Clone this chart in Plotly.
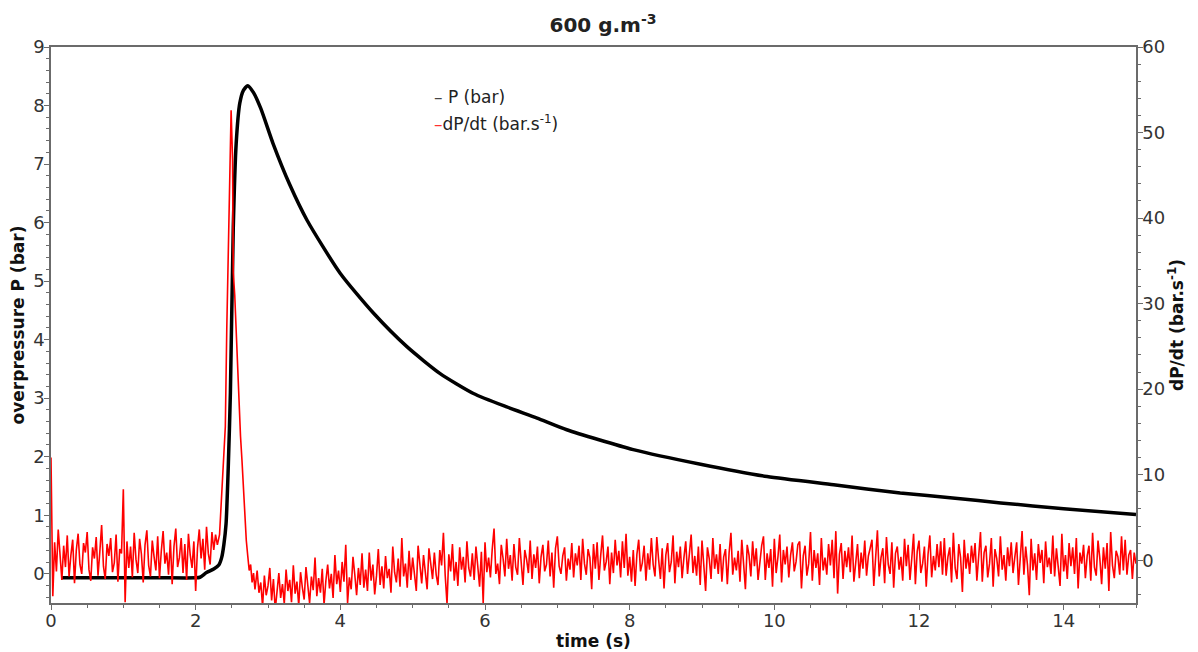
import numpy as np
import plotly.graph_objects as go

# overpressure P (bar)
t_p = [0.15, 0.5, 1.0, 1.5, 2.0, 2.06, 2.15, 2.25, 2.32, 2.36, 2.39, 2.42,
       2.45, 2.48, 2.52, 2.56, 2.61, 2.66, 2.72, 2.80, 2.90, 3.07, 3.30,
       3.54, 4.0, 4.46, 4.92, 5.38, 5.84, 6.30, 6.72, 7.13, 8.05, 8.98,
       9.90, 10.82, 11.74, 12.5, 13.13, 14.0, 15.0]
p_bar = [-0.07, -0.07, -0.07, -0.07, -0.07, -0.06, 0.02, 0.08, 0.15, 0.28,
         0.50, 0.85, 1.8, 3.09, 5.92, 7.35, 8.04, 8.26, 8.34, 8.22, 7.95,
         7.35, 6.65, 6.04, 5.13, 4.45, 3.88, 3.42, 3.08, 2.85, 2.66, 2.46,
         2.12, 1.87, 1.66, 1.52, 1.38, 1.29, 1.21, 1.11, 1.01]

# dP/dt (bar/s), red trace, one value every 0.025 s before the rise
dpdt_base = [
    12.0, -4.2, 2.1, -1.3, 3.6, 0.4, -2.3, 1.7, -0.8, 2.9,
    -1.9, 0.6, 2.4, -2.7, 1.2, 3.1, -0.5, -1.6, 2.0, 0.9,
    3.3, -1.1, -2.4, 1.5, 0.2, 2.7, -1.8, 1.0, 4.1, -0.7,
    -2.2, 1.9, 0.5, 2.6, -1.4, -0.3, 3.0, -2.5, 1.3, 0.8,
    8.3, -4.9, 2.2, -0.9, 1.6, -2.0, 3.2, 0.1, -1.5, 2.5,
    0.7, -2.6, 1.8, 3.5, -0.6, -1.9, 2.3, 0.4, -1.2, 2.8,
    -2.1, 1.1, 3.4, -0.4, 0.9, -1.7, 2.4, -2.8, 1.6, 3.7,
    -0.8, 0.3, 2.6, -1.5, 1.9, -2.3, 3.1, 0.6, -0.9, 2.2,
    -3.6, 1.4, 3.6, 0.2, 2.5, -1.1, 3.9, 0.8, -0.5, 3.3,
    1.2, 3.0, 1.8,
]

# the rate peak
t_peak = [2.33, 2.36, 2.39, 2.41, 2.43, 2.45, 2.47, 2.49, 2.51, 2.52, 2.54,
          2.56, 2.58, 2.60, 2.62, 2.64, 2.66, 2.68, 2.70, 2.72, 2.74, 2.76,
          2.78, 2.80, 2.82]
dpdt_peak = [3.0, 7.8, 12.5, 15.6, 27.0, 36.0, 42.9, 52.6, 46.8, 33.6, 31.0,
             26.5, 22.0, 17.5, 14.5, 11.7, 8.0, 4.7, 2.3, 0.5, -1.2, -0.5,
             -2.6, -1.5, -3.4]

# after the peak, every 0.025 s from 2.85 s
dpdt_tail = [
    -1.2, -3.8, -2.6, -5.4, -1.8, -4.1, -3.0, -0.9, -4.7, -2.2, -5.8, -3.4, -1.5, -4.4, -2.8, -5.1, -1.1, -3.6, -2.3, -4.9,
    -0.6, -3.9, -2.5, -5.3, -1.4, -3.2, -4.6, -0.8, -2.7, -5.0, -1.9, -3.5, 0.3, -4.2, -2.1, -3.8, -1.0, -5.2, -2.4, -0.5,
    -3.3, -1.6, -4.4, 0.6, -2.8, -1.2, -3.7, -0.2, -2.5, 1.8, -5.0, -2.0, -3.4, 0.4, -1.7, -4.1, -0.9, -2.9, 0.8, -3.2,
    -1.1, -3.6, 0.9, -2.4, -0.5, -4.0, -1.8, 1.3, -2.9, -0.7, -3.3, 0.5, -2.1, -1.0, -3.8, 1.6, -1.4, -2.6, 0.2, -3.1,
    2.6, -1.9, -0.4, -3.2, 1.1, -2.3, 0.3, -1.5, -3.6, 1.7, -0.8, -2.7, 0.6, -1.2, -3.4, 1.4, -0.3, -2.2, 0.9, -1.7,
    -2.9, 1.2, -0.6, 3.2, -1.8, -5.1, 0.7, -1.3, 1.9, -2.4, -0.2, -3.0, 1.5, -1.1, 0.4, -2.6, 2.2, -0.9, -1.9, 0.8,
    -2.3, 1.6, -0.7, -3.1, 1.0, -5.0, 2.1, -1.4, 0.3, -2.0, 1.3, 3.7, -1.6, -0.4, -2.8, 1.8, 0.2, -1.9, 2.5, -1.0,
    0.6, -2.4, 1.9, -0.8, -1.7, 2.6, -0.2, -2.9, 1.2, 0.1, -1.5, 2.3, -2.2, 0.7, -0.9, 1.6, -2.7, 0.4, 1.8, -1.3,
    -0.5, 2.3, -1.9, 0.9, -3.2, 1.4, 2.8, -0.7, -1.6, 0.5, 1.5, -2.4, 0.2, -1.1, 2.0, -2.0, 0.8, -0.6, 1.7, -2.3,
    2.5, -0.4, -1.7, 1.3, 0.3, -3.4, 1.9, -1.0, 2.1, -2.3, 0.6, 2.9, -1.2, -0.2, 1.6, -2.8, 0.9, -1.5, 2.4, -0.6,
    1.1, -2.0, 2.2, -0.9, 3.1, -1.8, 0.4, -2.5, 1.2, -3.0, 0.7, 2.4, -1.3, -0.3, 1.7, -2.4, 0.8, -1.1, 2.6, -0.5,
    -1.9, 2.7, 0.1, -2.2, 1.4, -3.3, 0.6, 2.0, -1.4, -0.2, 2.9, -2.7, 1.0, -0.8, 1.6, -2.1, 0.3, 2.2, -1.6, 0.9,
    3.0, -1.5, 0.5, -1.8, 1.6, -2.9, 2.3, -0.6, -3.6, 1.5, 0.2, -2.2, 2.6, -1.0, 0.7, -1.6, 1.9, -2.5, 0.4, 1.3,
    -2.8, 0.9, 3.2, -1.7, 0.3, -1.2, 1.1, -2.5, 2.4, -0.4, -3.4, 1.8, 0.6, -1.9, 2.2, -0.7, 1.4, -2.3, 0.1, 1.7,
    2.8, -2.3, 0.8, -0.9, 1.3, -3.1, 2.5, -1.5, 0.4, 3.0, -2.6, 1.2, -0.5, 1.6, -2.0, 0.6, 2.1, -1.3, -0.2, 1.8,
    2.2, -3.3, 0.5, 1.7, -1.8, -0.4, 3.3, -2.4, 1.2, -0.9, 0.8, -2.9, 2.6, -1.2, 0.3, -1.7, 1.9, -0.6, 2.4, -2.1,
    3.4, -3.9, 0.7, 2.0, -2.2, 1.1, -0.8, 1.5, -1.4, 2.9, -2.5, 0.2, 1.9, -2.1, 0.9, -1.0, 2.3, -1.8, 0.5, 1.4,
    2.4, -3.0, 0.6, 3.5, -1.9, 0.3, 1.4, -2.7, 2.7, -0.5, -1.6, 2.1, -3.2, 0.8, 1.6, -1.1, 0.4, -2.4, 2.5, -0.7,
    1.8, -2.3, 0.2, 3.1, -2.8, 1.0, 2.3, -1.5, -0.4, 1.6, -3.1, 0.7, 2.9, -2.0, 0.5, -1.2, 1.9, -0.8, 2.2, -1.7,
    2.6, -1.8, 0.4, 1.5, -2.6, 3.2, -0.9, -2.2, 1.9, 0.3, -3.7, 2.4, -1.0, 0.8, -1.6, 1.7, -0.3, 2.0, -2.4, 0.6,
    3.3, -2.5, 0.9, 1.7, -2.0, -0.4, 2.6, -3.1, 1.3, 0.2, -1.9, 2.8, -1.1, 0.6, -2.4, 1.5, -0.7, 2.1, -1.5, 0.4,
    2.1, -2.9, 0.5, 3.4, -1.7, 1.6, -0.6, -4.1, 2.5, -1.2, 0.8, -2.3, 1.9, -0.3, 1.2, -2.7, 2.2, -0.8, 0.3, -1.6,
    2.9, -1.9, 1.4, -0.5, -3.0, 3.1, -1.3, 0.6, -2.2, 2.0, -0.7, 1.5, -1.6, 2.6, -3.3, 0.9, -0.4, 1.8, -2.1, 0.5,
    1.7, -2.4, 3.2, -0.8, -1.8, 2.3, 0.2, -2.8, 1.5, -1.0, 2.0, -3.6, 3.3, -0.6, -2.1, 1.1, 0.4, -1.7, 2.8, -1.2,
    2.4, -1.7, 0.6, 1.2, -2.2, 0.9, -0.4,
]

t_base = np.round(0.025 * np.arange(len(dpdt_base)), 3)
t_tail = np.round(2.85 + 0.025 * np.arange(len(dpdt_tail)), 3)
t_red = list(t_base) + t_peak + list(t_tail)
dpdt = dpdt_base + dpdt_peak + dpdt_tail

FONT = "DejaVu Sans"
AXIS_GREY = "#6b6b6b"
TICK_FONT = dict(family=FONT, size=18, color="#333333")
TITLE_FONT = dict(family=FONT, size=17, color="#111111")

# the page body keeps its default 8px margin, so the figure is 8px smaller
W, H = 1190, 644

fig = go.Figure()
fig.add_trace(go.Scatter(x=t_p, y=p_bar, mode="lines", name="P (bar)",
                         line=dict(color="black", width=3.5, shape="spline",
                                   smoothing=0.6),
                         showlegend=False))
fig.add_trace(go.Scatter(x=t_red, y=dpdt, mode="lines", yaxis="y2",
                         name="dP/dt (bar.s<sup>-1</sup>)",
                         line=dict(color="#ff0000", width=1.6),
                         showlegend=False))

axis_common = dict(showgrid=False, zeroline=False, showline=True,
                   linecolor=AXIS_GREY, linewidth=1.5, ticks="outside",
                   ticklen=5, tickcolor=AXIS_GREY, tickfont=TICK_FONT,
                   ticklabelstandoff=-4, automargin=False)

fig.update_layout(
    width=W, height=H,
    margin=dict(l=43, r=62, t=39, b=49),
    paper_bgcolor="white", plot_bgcolor="white",
    title=dict(text="<b>600 g.m<sup>-3</sup></b>", x=0.5, xanchor="center",
               y=1 - 17 / H, yanchor="middle", automargin=False,
               font=dict(family=FONT, size=20, color="#222222")),
    xaxis=dict(range=[0, 15], dtick=2, mirror=True,
               minor=dict(dtick=0.5, ticks="outside", ticklen=3,
                          tickcolor=AXIS_GREY),
               title=dict(text="<b>time (s)</b>", font=TITLE_FONT, standoff=0),
               **axis_common),
    yaxis=dict(range=[-0.5, 9], dtick=1,
               minor=dict(dtick=0.2, ticks="outside", ticklen=3,
                          tickcolor=AXIS_GREY),
               title=dict(text="<b>overpressure P (bar)</b>", font=TITLE_FONT,
                          standoff=4),
               **axis_common),
    yaxis2=dict(range=[-5, 60], dtick=10, overlaying="y", side="right",
                minor=dict(dtick=2, ticks="outside", ticklen=3,
                           tickcolor=AXIS_GREY),
                title=dict(text="<b>dP/dt (bar.s<sup>-1</sup>)</b>",
                           font=TITLE_FONT, standoff=4),
                **axis_common),
    annotations=[
        dict(xref="paper", yref="paper", x=0.351, y=0.910, xanchor="left",
             yanchor="middle", showarrow=False,
             text="<span style='color:#444444'>–</span> P (bar)",
             font=dict(family=FONT, size=17, color="#222222")),
        dict(xref="paper", yref="paper", x=0.351, y=0.863, xanchor="left",
             yanchor="middle", showarrow=False,
             text="<span style='color:#ff3030'>–</span>dP/dt (bar.s<sup>-1</sup>)",
             font=dict(family=FONT, size=17, color="#222222")),
    ],
)

fig.write_html("out.html")
